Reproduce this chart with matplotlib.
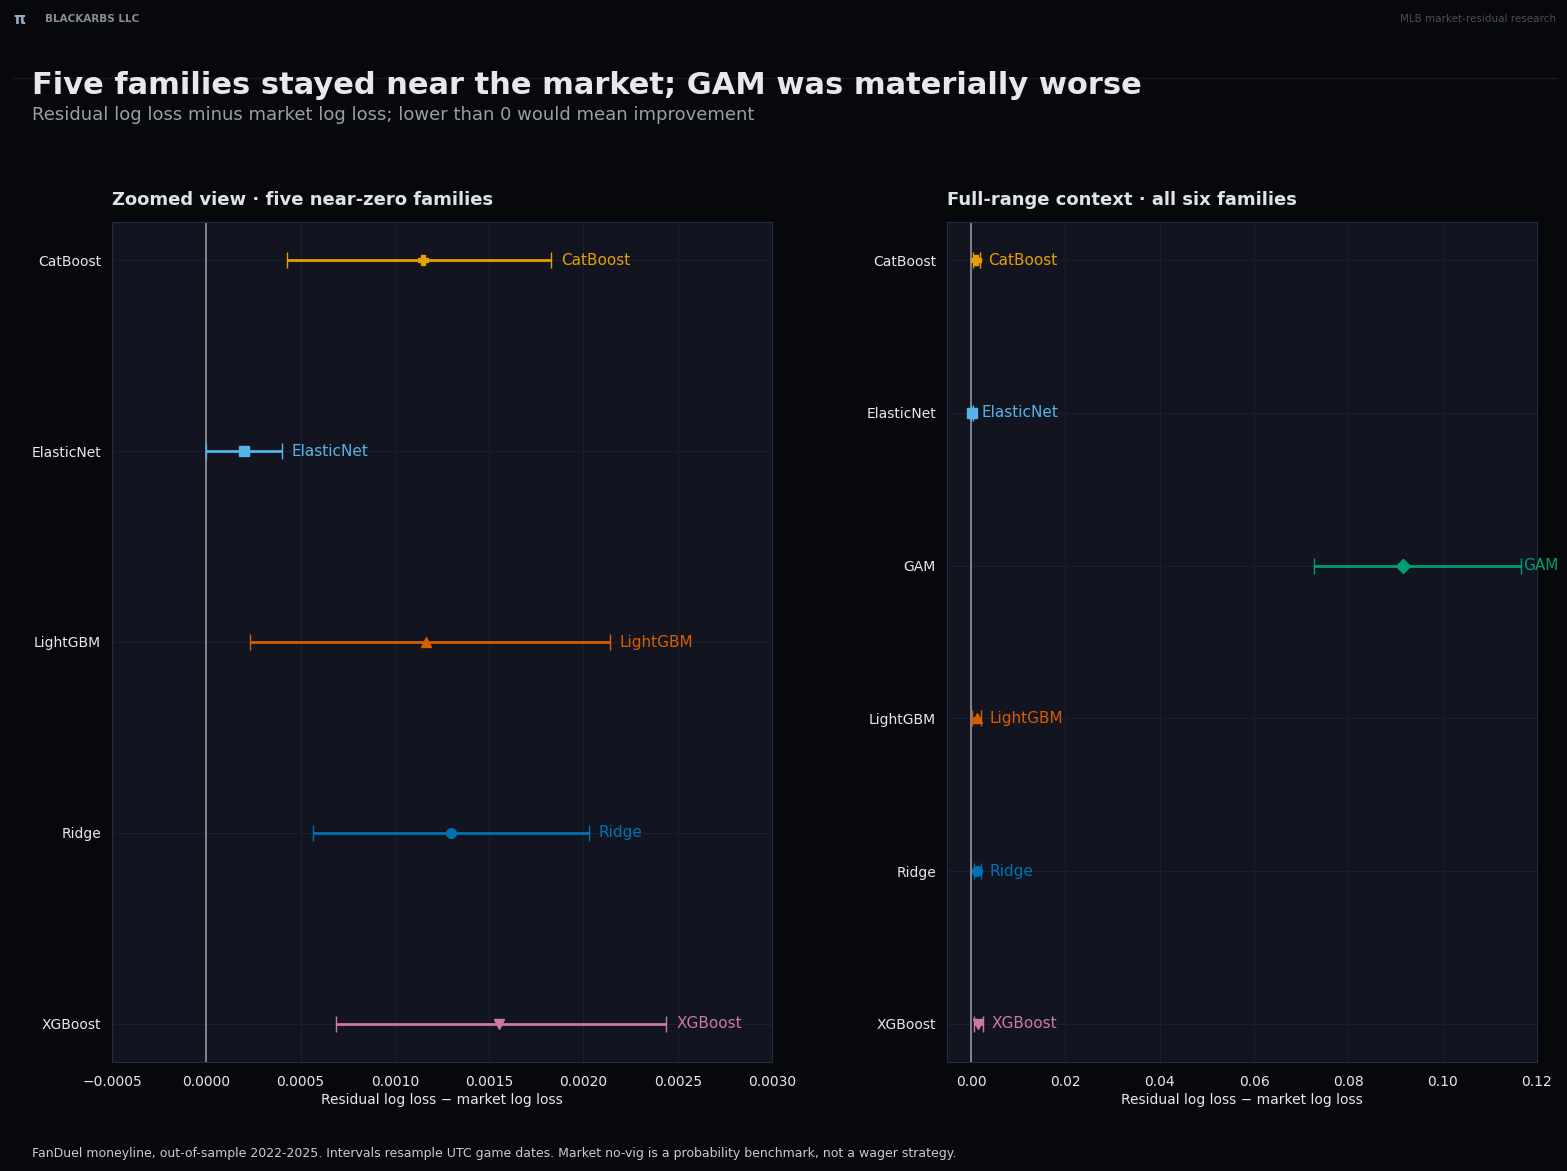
import matplotlib
matplotlib.use("Agg")
import matplotlib.pyplot as plt

families_zoom = ["CatBoost", "ElasticNet", "LightGBM", "Ridge", "XGBoost"]
families_all = ["CatBoost", "ElasticNet", "GAM", "LightGBM", "Ridge", "XGBoost"]
est = {"CatBoost": 0.00115, "ElasticNet": 0.0002, "GAM": 0.0916, "LightGBM": 0.001165, "Ridge": 0.0013, "XGBoost": 0.00155}
lo = {"CatBoost": 0.000428, "ElasticNet": 0.0, "GAM": 0.0727, "LightGBM": 0.00023, "Ridge": 0.000566, "XGBoost": 0.00069}
hi = {"CatBoost": 0.00183, "ElasticNet": 0.0004, "GAM": 0.1166, "LightGBM": 0.00214, "Ridge": 0.00203, "XGBoost": 0.00244}
colors = {"CatBoost": "#E69F00", "ElasticNet": "#56B4E9", "GAM": "#009E73", "LightGBM": "#D55E00", "Ridge": "#0072B2", "XGBoost": "#CC79A7"}
markers = {"CatBoost": "P", "ElasticNet": "s", "GAM": "D", "LightGBM": "^", "Ridge": "o", "XGBoost": "v"}

BG = "#07080c"; AX = "#121420"; TXT = "#e6e8ee"
W, H = 1567, 1171
fig = plt.figure(figsize=(W/100, H/100), dpi=100, facecolor=BG)

def panel(rect, fams, xlim, ylim, title, xticks, fmt):
    ax = fig.add_axes(rect, facecolor=AX)
    span = xlim[1] - xlim[0]
    for i, f in enumerate(fams):
        c = colors[f]
        ax.errorbar([est[f]], [i], xerr=[[est[f]-lo[f]], [hi[f]-est[f]]], fmt=markers[f], color=c,
                    ms=7, capsize=6, lw=2, elinewidth=2, zorder=3)
        near_edge = hi[f] > xlim[1] - 0.04 * span
        off = 0.003 * span if near_edge else 0.015 * span
        ax.text(hi[f] + off, i, f, color=c, va="center", ha="left", fontsize=11, clip_on=False)
    ax.axvline(0, color="#8a8d96", lw=1.3, zorder=2)
    ax.set_xlim(*xlim); ax.set_ylim(*ylim)
    ax.set_yticks(range(len(fams))); ax.set_yticklabels(fams)
    ax.set_xticks(xticks); ax.set_xticklabels([fmt(t) for t in xticks])
    ax.grid(True, color="#1c1f30", lw=0.8, zorder=0)
    ax.tick_params(colors=TXT, labelsize=10, length=0)
    ax.tick_params(axis="y", pad=8)
    ax.tick_params(axis="x", pad=9)
    for s in ax.spines.values():
        s.set_color("#262a45")
    ax.set_xlabel("Residual log loss \u2212 market log loss", color=TXT, fontsize=10, labelpad=3)
    ax.set_title(title, color="#dfe2ea", fontsize=13, fontweight="bold", loc="left", pad=12)
    return ax

def f4(t):
    return f"{t:.4f}".replace("-", "\u2212")
def f2(t):
    return f"{t:.2f}"

b = (H-1062)/H; h = 840/H
panel([112/W, b, 660/W, h], families_zoom, (-0.0005, 0.003), (4.2, -0.2),
      "Zoomed view \u00b7 five near-zero families",
      [-0.0005, 0, 0.0005, 0.001, 0.0015, 0.002, 0.0025, 0.003], f4)
panel([947/W, b, 590/W, h], families_all, (-0.0051, 0.12), (5.25, -0.25),
      "Full-range context \u00b7 all six families",
      [0, 0.02, 0.04, 0.06, 0.08, 0.10, 0.12], f2)

fig.text(13/W, 1-19/H, "\u03c0", color="#9ab", fontsize=11, fontweight="bold", va="center")
fig.text(45/W, 1-19/H, "BLACKARBS LLC", color="#8a8d96", fontsize=7.5, fontweight="bold", va="center")
fig.text(1556/W, 1-19/H, "MLB market-residual research", color="#4a4d58", fontsize=7.5, va="center", ha="right")
fig.add_artist(plt.Line2D([13/W, 1556/W], [1-78/H, 1-78/H], color="#1a1c28", lw=1))
fig.text(32/W, 1-86/H, "Five families stayed near the market; GAM was materially worse",
         color=TXT, fontsize=22, fontweight="bold", va="center")
fig.text(32/W, 1-115/H, "Residual log loss minus market log loss; lower than 0 would mean improvement",
         color="#9a9eaa", fontsize=13, va="center")
fig.text(32/W, 1-1154/H, "FanDuel moneyline, out-of-sample 2022-2025. Intervals resample UTC game dates. Market no-vig is a probability benchmark, not a wager strategy.",
         color="#c8cbd4", fontsize=9, va="center")

fig.savefig("out.png", dpi=100, facecolor=BG)
